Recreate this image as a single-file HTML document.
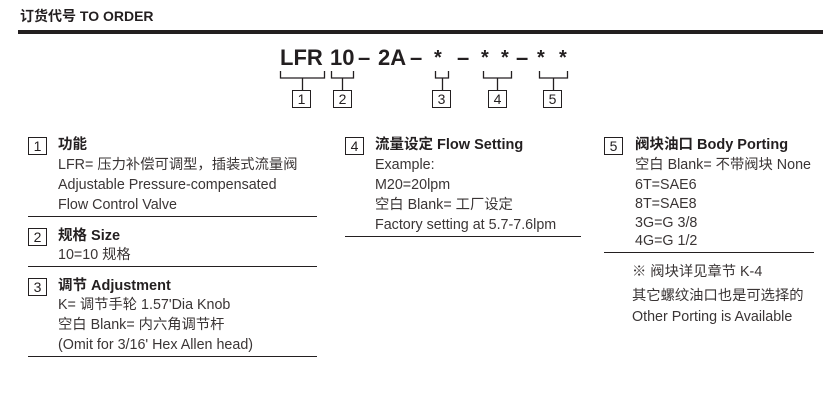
<!DOCTYPE html>
<html><head><meta charset="utf-8"><style>
body{margin:0;width:823px;height:404px;background:#fff;position:relative;overflow:hidden;font-family:"Liberation Sans","Noto Sans CJK SC",sans-serif;color:#231f20}
.t{position:absolute;white-space:nowrap;font-size:14.3px;line-height:16px}
.b{font-weight:bold;font-size:14.5px}
.g{color:#3a3535}
.box{position:absolute;width:17px;height:16px;border:1px solid #231f20;font-size:14px;line-height:16px;text-align:center}
.hl{position:absolute;height:1px;background:#231f20}
.code{position:absolute;top:44px;font-weight:bold;font-size:22px;line-height:28px;white-space:nowrap}
</style></head><body>
<div class="t" style="left:20px;top:8px;font-weight:bold;font-size:14px">订货代号 TO ORDER</div>
<div style="position:absolute;left:18px;top:30px;width:805px;height:4px;background:#231f20"></div>

<div class="code" style="left:280px">LFR</div>
<div class="code" style="left:330px">10</div>
<div class="code" style="left:358px">–</div>
<div class="code" style="left:378px">2A</div>
<div class="code" style="left:410px">–</div>
<div class="code" style="left:434px;font-size:20px">*</div>
<div class="code" style="left:457px">–</div>
<div class="code" style="left:481px;font-size:20px">*</div>
<div class="code" style="left:501px;font-size:20px">*</div>
<div class="code" style="left:516px">–</div>
<div class="code" style="left:537px;font-size:20px">*</div>
<div class="code" style="left:559px;font-size:20px">*</div>

<svg width="823" height="404" style="position:absolute;left:0;top:0" fill="none" stroke="#231f20" stroke-width="1.3">
<path d="M280.5 71v7h44v-7M302.5 78v12"/>
<path d="M331.5 71v7h22v-7M342.5 78v12"/>
<path d="M435.5 71v7h13v-7M442.5 78v12"/>
<path d="M483.5 71v7h28v-7M497.5 78v12"/>
<path d="M539.5 71v7h28v-7M553.5 78v12"/>
</svg>
<div class="box" style="left:292px;top:90px">1</div>
<div class="box" style="left:333px;top:90px">2</div>
<div class="box" style="left:432px;top:90px">3</div>
<div class="box" style="left:488px;top:90px">4</div>
<div class="box" style="left:543px;top:90px">5</div>

<div class="box" style="left:28px;top:137px">1</div>
<div class="t b" style="left:58px;top:137px">功能</div>
<div class="t g" style="left:58px;top:157px">LFR= 压力补偿可调型，插装式流量阀</div>
<div class="t g" style="left:58px;top:177px">Adjustable Pressure-compensated</div>
<div class="t g" style="left:58px;top:197px">Flow Control Valve</div>
<div class="hl" style="left:28px;top:216px;width:289px"></div>
<div class="box" style="left:28px;top:228px">2</div>
<div class="t b" style="left:58px;top:228px">规格 Size</div>
<div class="t g" style="left:58px;top:247px">10=10 规格</div>
<div class="hl" style="left:28px;top:266px;width:289px"></div>
<div class="box" style="left:28px;top:278px">3</div>
<div class="t b" style="left:58px;top:278px">调节 Adjustment</div>
<div class="t g" style="left:58px;top:297px">K= 调节手轮 1.57'Dia Knob</div>
<div class="t g" style="left:58px;top:317px">空白 Blank= 内六角调节杆</div>
<div class="t g" style="left:58px;top:337px">(Omit for 3/16' Hex Allen head)</div>
<div class="hl" style="left:28px;top:356px;width:289px"></div>

<div class="box" style="left:345px;top:137px">4</div>
<div class="t b" style="left:375px;top:137px">流量设定 Flow Setting</div>
<div class="t g" style="left:375px;top:157px">Example:</div>
<div class="t g" style="left:375px;top:177px">M20=20lpm</div>
<div class="t g" style="left:375px;top:197px">空白 Blank= 工厂设定</div>
<div class="t g" style="left:375px;top:217px">Factory setting at 5.7-7.6lpm</div>
<div class="hl" style="left:345px;top:236px;width:236px"></div>

<div class="box" style="left:604px;top:137px">5</div>
<div class="t b" style="left:635px;top:137px">阀块油口 Body Porting</div>
<div class="t g" style="left:635px;top:157px">空白 Blank= 不带阀块 None</div>
<div class="t g" style="left:635px;top:177px">6T=SAE6</div>
<div class="t g" style="left:635px;top:196px">8T=SAE8</div>
<div class="t g" style="left:635px;top:215px">3G=G 3/8</div>
<div class="t g" style="left:635px;top:233px">4G=G 1/2</div>
<div class="hl" style="left:604px;top:252px;width:210px"></div>
<div class="t g" style="left:632px;top:264px">※ 阀块详见章节 K-4</div>
<div class="t g" style="left:632px;top:288px">其它螺纹油口也是可选择的</div>
<div class="t g" style="left:632px;top:309px">Other Porting is Available</div>
</body></html>
